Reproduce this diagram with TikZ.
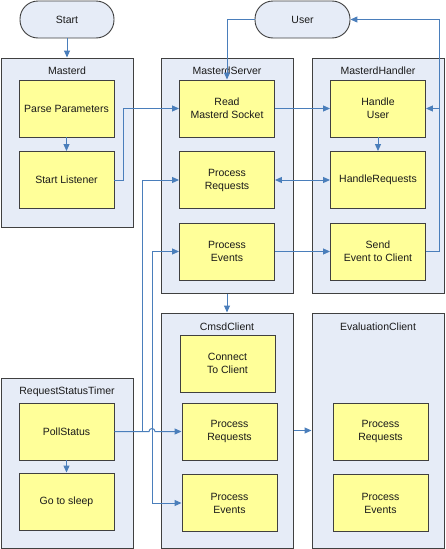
\documentclass[tikz,border=0pt]{standalone}
\usepackage{fontspec}
\setmainfont{Liberation Sans}
\usetikzlibrary{arrows.meta}
\definecolor{contfill}{HTML}{E6ECF7}
\definecolor{boxfill}{HTML}{FFFF99}
\definecolor{edge}{HTML}{404040}
\definecolor{conn}{HTML}{4A7EBB}
\definecolor{txt}{HTML}{1A1A1A}
\tikzset{
  container/.style={draw=edge, fill=contfill, line width=1pt, minimum width=132pt, inner sep=0pt},
  ctitle/.style={text=txt, font=\fontsize{10.5}{13}\selectfont, inner sep=0pt, anchor=center},
  stepbox/.style={draw=edge, fill=boxfill, line width=0.9pt, minimum width=95pt, minimum height=57pt, inner sep=0pt, align=center, text=txt, font=\fontsize{10.5}{13}\selectfont},
  term/.style={draw=edge, fill=contfill, line width=0.9pt, rounded corners=18pt, minimum height=37pt, inner sep=0pt, text=txt, font=\fontsize{10.5}{13}\selectfont},
  link/.style={draw=conn, line width=1pt, -{Triangle[length=7pt,width=6pt]}},
  dlink/.style={draw=conn, line width=1pt, {Triangle[length=7pt,width=6pt]}-{Triangle[length=7pt,width=6pt]}},
  plain/.style={draw=conn, line width=1pt},
}
\begin{document}
\begin{tikzpicture}[x=1pt,y=-1pt]
\useasboundingbox (0,0) rectangle (445,549);
% terminators
\node[term, minimum width=94pt] (start) at (67,19.5) {Start};
\node[term, minimum width=95pt] (user) at (302.5,19.5) {User};
% containers
\node[container, minimum height=169pt] (masterd) at (67,142.5) {};
\node[ctitle] (tmasterd) at (67,71) {Masterd};
\node[container, minimum height=235pt] (server) at (227,175.5) {};
\node[ctitle] (tserver) at (227,71) {MasterdServer};
\node[container, minimum height=235pt] (handler) at (378,175.5) {};
\node[ctitle] (thandler) at (378,71) {MasterdHandler};
\node[container, minimum height=235pt] (cmsd) at (227,430.5) {};
\node[ctitle] (tcmsd) at (227,327) {CmsdClient};
\node[container, minimum height=235pt] (eval) at (378,430.5) {};
\node[ctitle] (teval) at (378,327) {EvaluationClient};
\node[container, minimum height=170pt] (timer) at (67,463) {};
\node[ctitle] (ttimer) at (67,392) {RequestStatusTimer};
% boxes
\node[stepbox] (parse) at (66.5,108.5) {Parse Parameters};
\node[stepbox] (listen) at (66.5,180) {Start Listener};
\node[stepbox] (read) at (227,108.5) {Read\\Masterd Socket};
\node[stepbox] (preq) at (227,180) {Process\\Requests};
\node[stepbox] (pev) at (227,251.5) {Process\\Events};
\node[stepbox] (huser) at (378,108.5) {Handle\\User};
\node[stepbox] (hreq) at (378,180) {HandleRequests};
\node[stepbox] (send) at (378,251.5) {Send\\Event to Client};
\node[stepbox] (conn) at (227.5,363.5) {Connect\\To Client};
\node[stepbox] (cpreq) at (229.5,431.5) {Process\\Requests};
\node[stepbox] (cpev) at (229.5,503) {Process\\Events};
\node[stepbox] (epreq) at (380.5,431.5) {Process\\Requests};
\node[stepbox] (epev) at (380.5,503) {Process\\Events};
\node[stepbox] (poll) at (66.5,431.5) {PollStatus};
\node[stepbox] (sleep) at (66.5,501.5) {Go to sleep};
% helper coordinates
\coordinate (rx) at (439,0);
\coordinate (lx) at (123,0);
\coordinate (va) at (142,0);
\coordinate (vb) at (152,0);
% connectors
\draw[link] (start) -- (masterd);
\draw[link] (parse) -- (listen);
\draw[link] (listen.east) -- (listen.east -| lx) |- (read.west);
\draw[link] (user.west) -| (read.north);
\draw[link] (read) -- (huser);
\draw[link] (huser) -- (hreq);
\draw[dlink] (preq) -- (hreq);
\draw[link] (pev) -- (send);
\draw[link] (send.east) -- (send.east -| rx) |- (user.east);
\draw[link] (huser.east -| rx) -- (huser.east);
\draw[link] (server) -- (cmsd);
\draw[link] (cmsd) -- (eval);
\draw[link] (poll) -- (sleep);
\draw[link] (poll.east) -- ([xshift=-3pt]poll.east -| vb) arc[start angle=180, end angle=0, radius=3pt] -- (cpreq.west);
\draw[link] (poll.east -| va) |- (preq.west);
\draw[dlink] (pev.west) -| (vb |- cpev.west) -- (cpev.west);
\end{tikzpicture}
\end{document}
